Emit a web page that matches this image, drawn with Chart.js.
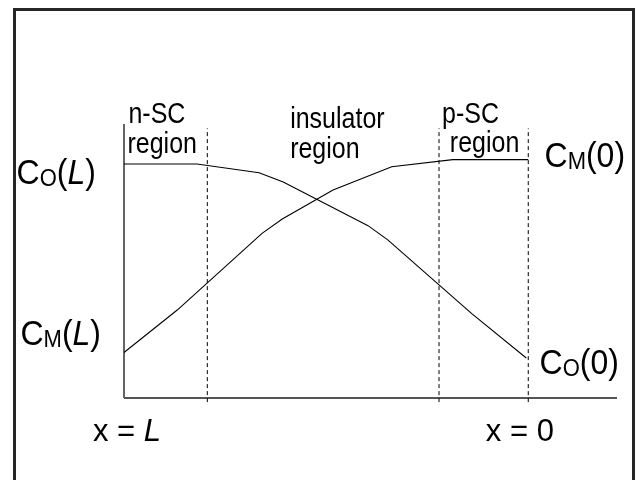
<!DOCTYPE html>
<html>
<head>
<meta charset="utf-8">
<script src="https://cdn.jsdelivr.net/npm/chart.js@4/dist/chart.umd.min.js"></script>
<style>
  html, body { margin: 0; padding: 0; background: #fff; }
  #wrap { width: 636px; height: 480px; }
</style>
</head>
<body>
<div id="wrap"><canvas id="profile" width="636" height="480"></canvas></div>
<script>
// position across the junction (0 = x = L side, 100 = end of axis)
const coX = [0, 14.8, 27.4, 32.3, 49.5, 53.5, 70.6, 81.6];
const coY = [85.4, 85.4, 82.2, 78.8, 62.9, 57.7, 30.7, 14.6];
const cmX = [0, 10.8, 28.0, 32.1, 42.4, 54.3, 66.7, 82.0];
const cmY = [16.6, 32.1, 60.1, 65.3, 75.9, 84.4, 87.0, 87.0];

// region boundaries (dashed)
const boundaries = [16.9, 63.9, 82.0];
const boundaryTop = 98.4;
const boundaryBottom = -1.5;

const FONT = '"Liberation Sans", Arial, Helvetica, sans-serif';

// text runs: [text, size, italic, subscript]; sy = vertical stretch of the glyphs
const labels = [
  { x: 0.9, y: 100.4, sy: 1.15, runs: [['n-SC', 25]] },
  { x: 0.7, y: 89.5, sy: 1.15, runs: [['region', 25]] },
  { x: 33.7, y: 98.5, sy: 1.15, runs: [['insulator', 25]] },
  { x: 33.7, y: 87.6, sy: 1.15, runs: [['region', 25]] },
  { x: 64.5, y: 100.4, sy: 1.15, runs: [['p-SC', 25]] },
  { x: 66.1, y: 89.8, sy: 1.15, runs: [['region', 25]] },
  { x: 85.3, y: 84.4, sy: 1.08, runs: [['C', 32], ['M', 22, false, true], ['(0)', 32]] },
  { x: -21.8, y: 78.1, sy: 1.08, runs: [['C', 32], ['O', 22, false, true], ['(', 32], ['L', 32, true], [')', 32]] },
  { x: -21.0, y: 19.3, sy: 1.08, runs: [['C', 32], ['M', 22, false, true], ['(', 32], ['L', 32, true], [')', 32]] },
  { x: 84.3, y: 8.8, sy: 1.08, runs: [['C', 32], ['O', 22, false, true], ['(0)', 32]] },
  { x: -6.3, y: -15.7, sy: 1.0, runs: [['x = ', 31], ['L', 31, true]] },
  { x: 73.4, y: -15.7, sy: 1.0, runs: [['x = 0', 31]] }
];

const frameAndText = {
  id: 'frameAndText',
  beforeDatasetsDraw(chart) {
    const { ctx, chartArea: a } = chart;
    ctx.save();
    // outer frame
    ctx.strokeStyle = '#262626';
    ctx.lineWidth = 3;
    ctx.strokeRect(14.5, 9.5, 619, 500);
    // axes
    ctx.strokeStyle = '#111';
    ctx.lineWidth = 1.3;
    ctx.beginPath();
    ctx.moveTo(a.left, a.top);
    ctx.lineTo(a.left, a.bottom);
    ctx.stroke();
    ctx.strokeStyle = '#555';
    ctx.lineWidth = 2;
    ctx.beginPath();
    ctx.moveTo(a.left, a.bottom);
    ctx.lineTo(a.right, a.bottom);
    ctx.stroke();
    ctx.restore();
  },
  afterDraw(chart) {
    const { ctx, scales } = chart;
    ctx.save();
    ctx.fillStyle = '#000';
    ctx.textBaseline = 'alphabetic';
    ctx.textAlign = 'left';
    labels.forEach(l => {
      let px = scales.x.getPixelForValue(l.x);
      const py = scales.y.getPixelForValue(l.y);
      l.runs.forEach(([t, size, italic, sub]) => {
        ctx.font = (italic ? 'italic ' : '') + size + 'px ' + FONT;
        ctx.save();
        ctx.translate(px, py + (sub ? 2 : 0));
        ctx.scale(1, l.sy);
        ctx.fillText(t, 0, 0);
        ctx.restore();
        px += ctx.measureText(t).width;
      });
    });
    ctx.restore();
  }
};

const line = (xs, ys) => xs.map((x, i) => ({ x, y: ys[i] }));

const datasets = [
  { data: line(coX, coY), borderColor: '#000', borderWidth: 1.1 },
  { data: line(cmX, cmY), borderColor: '#000', borderWidth: 1.1 }
].concat(boundaries.map(b => ({
  data: [{ x: b, y: boundaryBottom }, { x: b, y: boundaryTop }],
  borderColor: '#000',
  borderWidth: 1,
  borderDash: [4, 3],
  clip: false
})));

new Chart(document.getElementById('profile'), {
  type: 'scatter',
  data: { datasets: datasets.map(d => Object.assign({ showLine: true, pointRadius: 0, fill: false, tension: 0 }, d)) },
  options: {
    responsive: false,
    animation: false,
    layout: { padding: { left: 124, right: 19, top: 124, bottom: 82 } },
    plugins: { legend: { display: false }, tooltip: { enabled: false } },
    scales: {
      x: { type: 'linear', min: 0, max: 100, display: false },
      y: { type: 'linear', min: 0, max: 100, display: false }
    }
  },
  plugins: [frameAndText]
});
</script>
</body>
</html>
